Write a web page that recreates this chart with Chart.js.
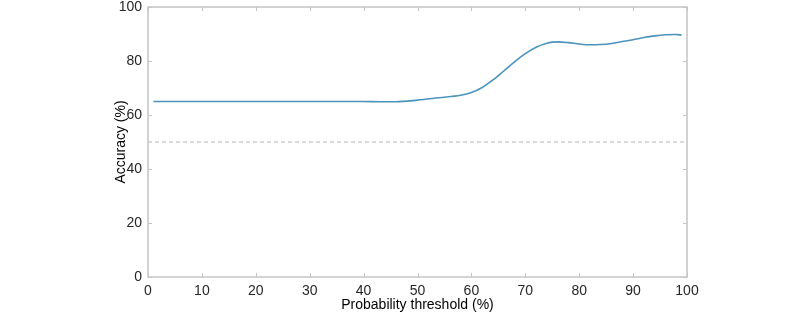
<!DOCTYPE html>
<html>
<head>
<meta charset="utf-8">
<script src="https://cdn.jsdelivr.net/npm/chart.js@4"></script>
<style>
  html, body { margin: 0; padding: 0; background: #fff; }
  #wrap { width: 800px; height: 323px; }
</style>
</head>
<body>
<div id="wrap"><canvas id="myChart"></canvas></div>
<script>
// data
const thresholds = [1, 5, 10, 15, 20, 25, 30, 35, 40, 43, 46, 50, 54, 58, 60, 62, 64, 66, 68, 70, 72, 74, 75, 76, 78, 80, 82, 84, 86, 88, 90, 92, 94, 96, 98, 99];
const accuracy = [65, 65, 65, 65, 65, 65, 65, 65, 65, 64.9, 64.9, 65.5, 66.4, 67.3, 68.3, 70.2, 73, 76.3, 79.7, 82.7, 85.1, 86.6, 87, 87.1, 86.8, 86.3, 86, 86.1, 86.5, 87.2, 87.9, 88.7, 89.3, 89.7, 89.8, 89.6];
const chanceLevel = 50;
const xTicks = [0, 10, 20, 30, 40, 50, 60, 70, 80, 90, 100];
const yTicks = [0, 20, 40, 60, 80, 100];

const axisColor = "#c4c4c4";
const textColor = "#262626";
const fontFamily = "'Liberation Sans', Arial, Helvetica, sans-serif";

// box around the plot with inward tick marks (matlab style)
const boxAxes = {
  id: "boxAxes",
  afterDatasetsDraw(chart) {
    const ctx = chart.ctx;
    const a = chart.chartArea;
    const xs = chart.scales.x;
    const ys = chart.scales.y;
    const len = 4;
    ctx.save();
    ctx.strokeStyle = axisColor;
    ctx.lineWidth = 1.5;
    ctx.strokeRect(a.left, a.top, a.right - a.left, a.bottom - a.top);
    ctx.lineWidth = 1;
    ctx.beginPath();
    xTicks.forEach(function (v) {
      const px = Math.round(xs.getPixelForValue(v)) + 0.5;
      ctx.moveTo(px, a.bottom);
      ctx.lineTo(px, a.bottom - len);
      ctx.moveTo(px, a.top);
      ctx.lineTo(px, a.top + len);
    });
    yTicks.forEach(function (v) {
      const py = Math.round(ys.getPixelForValue(v)) + 0.5;
      ctx.moveTo(a.left, py);
      ctx.lineTo(a.left + len, py);
      ctx.moveTo(a.right, py);
      ctx.lineTo(a.right - len, py);
    });
    ctx.stroke();
    ctx.restore();
  },
};

const ctx = document.getElementById("myChart");
const myChart = new Chart(ctx, {
  type: "line",
  data: {
    datasets: [
      {
        label: "Accuracy",
        data: thresholds.map(function (t, i) { return { x: t, y: accuracy[i] }; }),
        borderColor: "#4a93bd",
        borderWidth: 1.6,
        pointRadius: 0,
        tension: 0.4,
        cubicInterpolationMode: "monotone",
        fill: false,
      },
      {
        label: "Chance",
        data: [{ x: 0, y: chanceLevel }, { x: 100, y: chanceLevel }],
        borderColor: "#b4b4b4",
        borderWidth: 1,
        borderDash: [4, 3],
        pointRadius: 0,
        fill: false,
      },
    ],
  },
  options: {
    responsive: true,
    maintainAspectRatio: false,
    animation: false,
    layout: { padding: { left: 100, right: 113, top: 7, bottom: 0 } },
    plugins: { legend: { display: false }, tooltip: { enabled: false } },
    scales: {
      x: {
        type: "linear",
        min: 0,
        max: 100,
        afterFit: function (s) { s.height = 46; s.paddingLeft = 0; s.paddingRight = 0; },
        afterBuildTicks: function (s) { s.ticks = xTicks.map(function (v) { return { value: v }; }); },
        grid: { display: false, drawTicks: false },
        border: { display: false },
        ticks: { color: textColor, font: { family: fontFamily, size: 14 }, padding: 6, maxRotation: 0 },
        title: {
          display: true,
          text: "Probability threshold (%)",
          color: "#000",
          font: { family: fontFamily, size: 14 },
          padding: { top: 0, bottom: 9 },
        },
      },
      y: {
        type: "linear",
        min: 0,
        max: 100,
        afterFit: function (s) { s.width = 48; s.paddingTop = 0; s.paddingBottom = 0; },
        afterBuildTicks: function (s) { s.ticks = yTicks.map(function (v) { return { value: v }; }); },
        grid: { display: false, drawTicks: false },
        border: { display: false },
        ticks: { color: textColor, font: { family: fontFamily, size: 14 }, padding: 6 },
        title: {
          display: true,
          text: "Accuracy (%)",
          color: "#000",
          font: { family: fontFamily, size: 14 },
          padding: { top: 13, bottom: 0 },
        },
      },
    },
  },
  plugins: [boxAxes],
});
</script>
</body>
</html>
